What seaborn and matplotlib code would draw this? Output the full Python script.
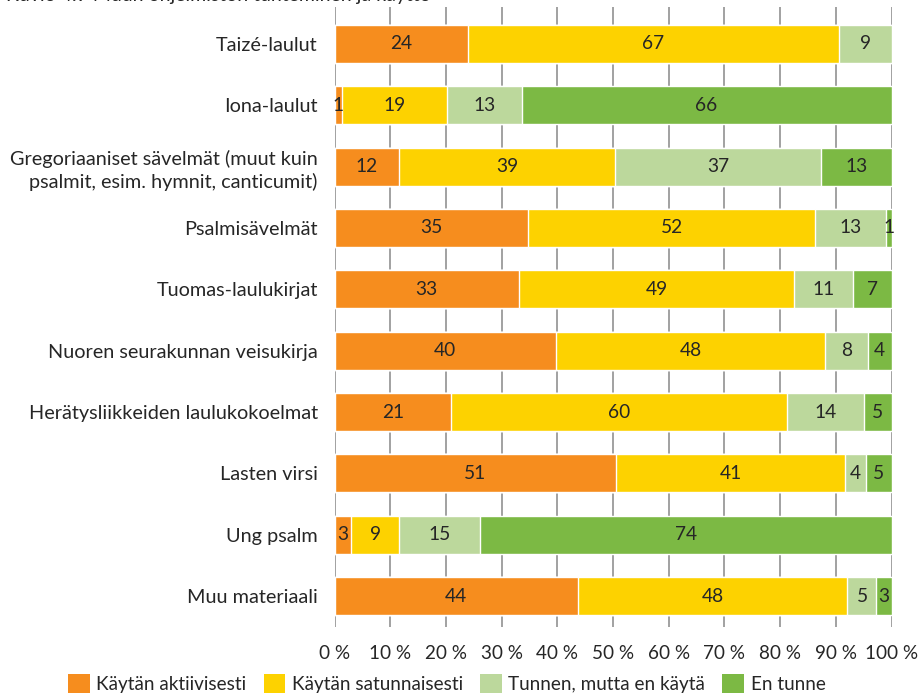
import matplotlib
matplotlib.use("Agg")
import matplotlib.pyplot as plt
from matplotlib.patches import Patch
import seaborn as sns
import pandas as pd
import numpy as np

categories = [
    "Taizé-laulut",
    "Iona-laulut",
    "Gregoriaaniset sävelmät (muut kuin\npsalmit, esim. hymnit, canticumit)",
    "Psalmisävelmät",
    "Tuomas-laulukirjat",
    "Nuoren seurakunnan veisukirja",
    "Herätysliikkeiden laulukokoelmat",
    "Lasten virsi",
    "Ung psalm",
    "Muu materiaali",
]
series_names = ["Käytän aktiivisesti", "Käytän satunnaisesti",
                "Tunnen, mutta en käytä", "En tunne"]
aktiivisesti = [23.9, 1.4, 11.6, 34.7, 33.1, 39.8, 20.9, 50.6, 3.0, 43.7]
satunnaisesti = [66.7, 18.8, 38.8, 51.6, 49.4, 48.3, 60.4, 41.1, 8.6, 48.4]
tunnen = [9.4, 13.4, 36.9, 12.7, 10.6, 7.6, 13.8, 3.7, 14.6, 5.2]
en_tunne = [0.0, 66.4, 12.7, 1.0, 6.9, 4.3, 4.9, 4.6, 73.8, 2.7]
tick_values = [0, 10, 20, 30, 40, 50, 60, 70, 80, 90, 100]
title = "Kuvio 4.9 Muun ohjelmiston tunteminen ja käyttö"

colors = ["#F68D1E", "#FDD200", "#BCD89C", "#7CB944"]

sns.set_theme(style="white")
plt.rcParams["font.family"] = ["Lato", "DejaVu Sans"]

series = [aktiivisesti, satunnaisesti, tunnen, en_tunne]
df = pd.DataFrame({name: vals for name, vals in zip(series_names, series)})
df["cat"] = categories
cum = df[series_names].cumsum(axis=1)

fig = plt.figure(figsize=(9.23, 6.97), dpi=100)
ax = fig.add_axes([334.5 / 923, 1 - 627 / 697, (891.5 - 334.5) / 923, (627 - 7) / 697])

# draw from the outermost cumulative to the innermost
for i in range(len(series_names) - 1, -1, -1):
    d = pd.DataFrame({"cat": categories, "val": cum[series_names[i]].values})
    sns.barplot(data=d, x="val", y="cat", orient="h", color=colors[i],
                width=0.62, saturation=1, ax=ax, zorder=2)

# data labels
text_color = "#262626"
for i, name in enumerate(series_names):
    starts = cum[name].values - df[name].values
    for j, (s, v) in enumerate(zip(starts, df[name].values)):
        if v <= 0:
            continue
        ax.text(s + v / 2, j, f"{v:.0f}", ha="center", va="center",
                fontsize=13.8, color=text_color, zorder=3)

ax.set_xlim(0, 100)
ax.set_ylim(9.505, -0.603)
ax.set_xticks(tick_values)
ax.set_xticklabels([f"{v} %" for v in tick_values])
ax.set_xlabel("")
ax.set_ylabel("")
ax.grid(axis="x", color="#9A9A9A", linewidth=1.3, zorder=0)
ax.grid(axis="y", visible=False)
ax.set_axisbelow(True)
for sp in ax.spines.values():
    sp.set_visible(False)
ax.tick_params(axis="x", length=0, pad=13, labelsize=13.6, labelcolor="#262626")
ax.tick_params(axis="y", length=0, pad=12, labelsize=14.3, labelcolor="#262626")
for lbl in ax.get_yticklabels():
    lbl.set_multialignment("right")
    lbl.set_linespacing(1.3)

handles = [Patch(facecolor=c, edgecolor="none", label=n) for c, n in zip(colors, series_names)]
fig.legend(handles=handles, loc="lower center", bbox_to_anchor=(0.484, -0.018), ncol=4,
           frameon=False, fontsize=13.6, handlelength=1.15, handleheight=1.15,
           handletextpad=0.35, columnspacing=0.9, labelcolor="#262626")

fig.text(0.006, 1.0 + 0.006, title, ha="left", va="center", fontsize=14,
         color="#262626")

fig.savefig("out.png", dpi=100)
